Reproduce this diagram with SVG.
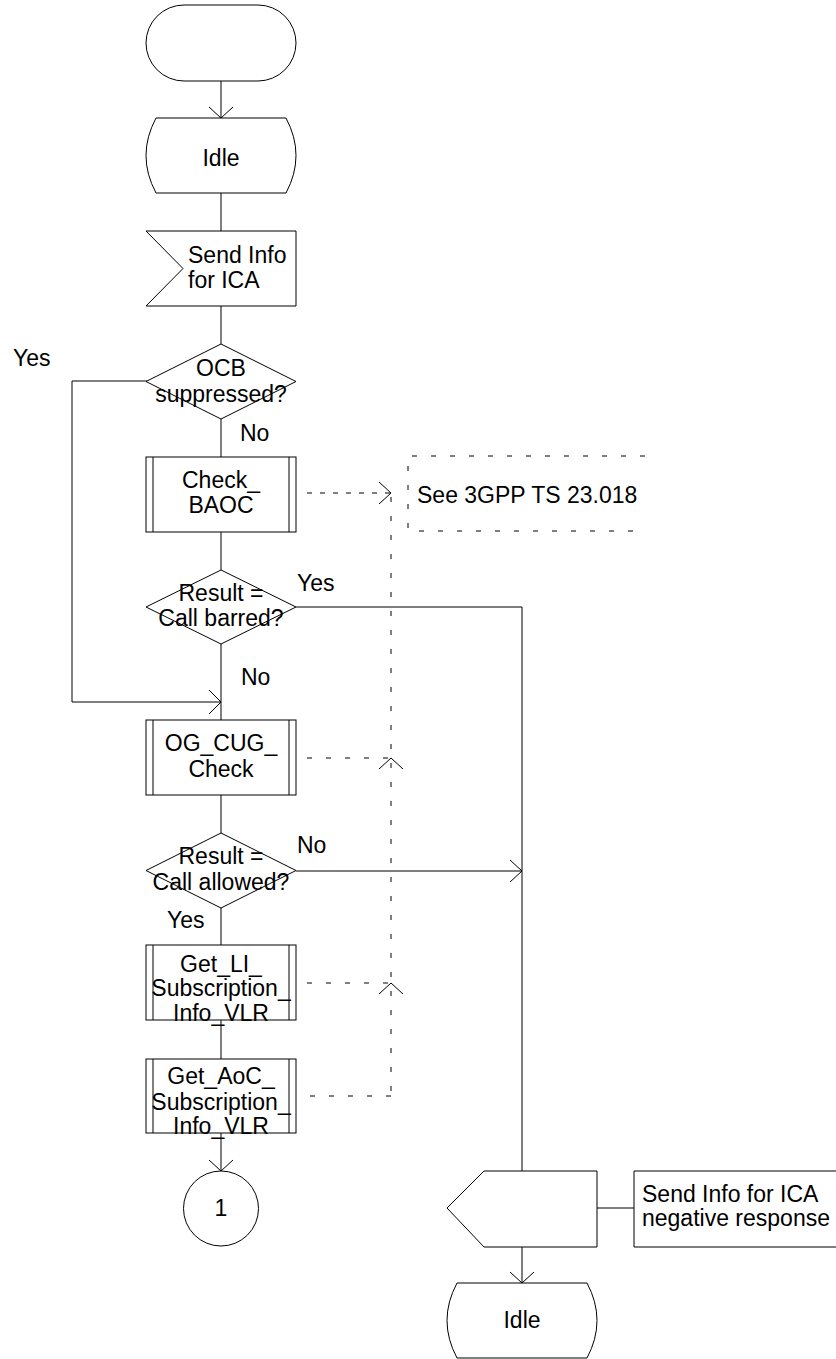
<svg xmlns="http://www.w3.org/2000/svg" width="836" height="1359" viewBox="0 0 836 1359">
<style>
.s{fill:#fff;stroke:#000;stroke-width:1}
.l{fill:none;stroke:#000;stroke-width:1}
.d{fill:none;stroke:#000;stroke-width:1;stroke-dasharray:5 14}
.d2{fill:none;stroke:#000;stroke-width:1;stroke-dasharray:5 8}
text{font-family:"Liberation Sans",Arial,sans-serif;font-size:23px;fill:#000}
.c{text-anchor:middle}
</style>
<rect width="836" height="1359" fill="#fff"/>
<g id="connectors">
<path class="l" d="M221,81V118M209,107L221,118L233,107"/>
<path class="l" d="M221,193V231"/>
<path class="l" d="M221,306V344"/>
<path class="l" d="M221,419V457"/>
<path class="l" d="M221,532V570"/>
<path class="l" d="M221,644V720"/>
<path class="l" d="M147,381H72V702H221M209,690L221,702L209,714"/>
<path class="l" d="M221,795V833"/>
<path class="l" d="M221,908V945"/>
<path class="l" d="M221,1020V1059"/>
<path class="l" d="M221,1133V1171M209,1160L221,1171L233,1160"/>
<path class="l" d="M296,607H522V1171"/>
<path class="l" d="M296,871H522M510,860L522,871L510,882"/>
<path class="l" d="M522,1247V1283M510,1272L522,1283L534,1272"/>
<path class="l" d="M597,1208H634"/>
<path class="d2" d="M307,493H390"/>
<path class="l" d="M379,482L391,493L379,504"/>
<path class="d" d="M391,497V1096"/>
<path class="d" d="M307,758H390"/>
<path class="l" d="M379,769L391,758L403,769"/>
<path class="d" d="M307,983H390"/>
<path class="l" d="M379,994L391,983L403,994"/>
<path class="d" d="M310,1096H391"/>
</g>
<g id="start"><rect class="s" x="146" y="5" width="150" height="76" rx="38" ry="38"/></g>
<g id="idle1"><path class="s" d="M156,118H286Q306,155.5 286,193H156Q136,155.5 156,118Z"/><text class="c" x="221" y="166">Idle</text></g>
<g id="input"><path class="s" d="M146,231H296V306H146L183,268.5Z"/><text x="188" y="263">Send Info</text><text x="188" y="288">for ICA</text></g>
<g id="dec_ocb"><path class="s" d="M221,344L296,381.5L221,419L146,381.5Z"/><text class="c" x="221" y="376">OCB</text><text class="c" x="221" y="402">suppressed?</text></g>
<g id="check_baoc"><rect class="s" x="146" y="457" width="150" height="75"/><path class="l" d="M153,457V532M289,457V532"/><text class="c" x="221" y="488">Check_</text><text class="c" x="221" y="513">BAOC</text></g>
<g id="comment1"><path class="d" d="M645,456H408V531H645"/><text x="417" y="503">See 3GPP TS 23.018</text></g>
<g id="dec_barred"><path class="s" d="M221,570L296,607L221,644L146,607Z"/><text class="c" x="221" y="601">Result =</text><text class="c" x="221" y="626">Call barred?</text></g>
<g id="og_cug"><rect class="s" x="146" y="720" width="150" height="75"/><path class="l" d="M153,720V795M289,720V795"/><text class="c" x="221" y="751">OG_CUG_</text><text class="c" x="221" y="777">Check</text></g>
<g id="dec_allowed"><path class="s" d="M221,833L296,870.5L221,908L146,870.5Z"/><text class="c" x="221" y="864">Result =</text><text class="c" x="221" y="890">Call allowed?</text></g>
<g id="get_li"><rect class="s" x="146" y="945" width="150" height="75"/><path class="l" d="M153,945V1020M289,945V1020"/><text class="c" x="221" y="972">Get_LI_</text><text class="c" x="221" y="996">Subscription_</text><text class="c" x="221" y="1021">Info_VLR</text></g>
<g id="get_aoc"><rect class="s" x="146" y="1059" width="150" height="74"/><path class="l" d="M153,1059V1133M289,1059V1133"/><text class="c" x="221" y="1084">Get_AoC_</text><text class="c" x="221" y="1110">Subscription_</text><text class="c" x="221" y="1134">Info_VLR</text></g>
<g id="conn1"><circle class="s" cx="221" cy="1208.5" r="37.5"/><text class="c" x="221" y="1216">1</text></g>
<g id="output"><path class="s" d="M447,1208L484,1171H597V1247H484Z"/></g>
<g id="comment2"><path class="l" d="M836,1171H634V1247H836"/><text x="642" y="1202">Send Info for ICA</text><text x="642" y="1226">negative response</text></g>
<g id="idle2"><path class="s" d="M457,1283H587Q607,1320.5 587,1358H457Q437,1320.5 457,1283Z"/><text class="c" x="522" y="1328">Idle</text></g>
<g id="labels">
<text x="13" y="366">Yes</text>
<text x="240" y="441">No</text>
<text x="297" y="591">Yes</text>
<text x="241" y="685">No</text>
<text x="297" y="853">No</text>
<text x="167" y="928">Yes</text>
</g>
</svg>
